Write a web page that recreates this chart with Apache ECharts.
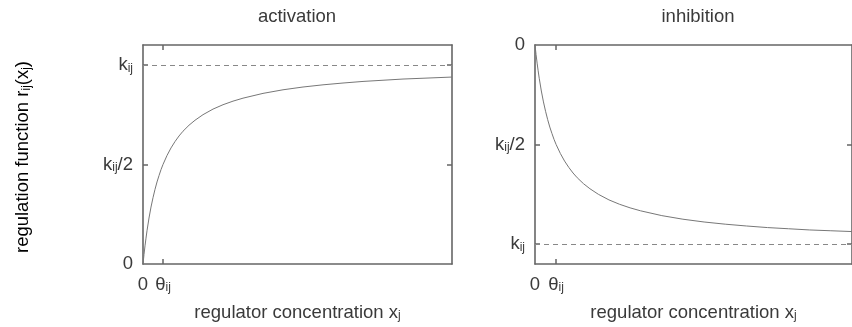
<!DOCTYPE html>
<html>
<head>
<meta charset="utf-8">
<script src="https://cdn.jsdelivr.net/npm/echarts@6/dist/echarts.min.js"></script>
<style>
  html, body { margin: 0; padding: 0; background: #fff; }
  #chart { width: 852px; height: 327px; }
</style>
</head>
<body>
<div id="chart"></div>
<script>
// x in units of theta_ij, y in units of k_ij
const actX = [0, 0.05, 0.1, 0.15, 0.2, 0.3, 0.4, 0.5, 0.6, 0.7, 0.8, 0.9, 1, 1.2, 1.4, 1.6, 1.8, 2, 2.3, 2.6, 3, 3.5, 4, 4.5, 5, 6, 7, 8, 9, 10, 11, 12, 13, 14, 15.45]
const actY = [0, 0.048, 0.091, 0.13, 0.167, 0.231, 0.286, 0.333, 0.375, 0.412, 0.444, 0.474, 0.5, 0.545, 0.583, 0.615, 0.643, 0.667, 0.697, 0.722, 0.75, 0.778, 0.8, 0.818, 0.833, 0.857, 0.875, 0.889, 0.9, 0.909, 0.917, 0.923, 0.929, 0.933, 0.939]
const inhX = [0, 0.05, 0.1, 0.15, 0.2, 0.3, 0.4, 0.5, 0.6, 0.7, 0.8, 0.9, 1, 1.2, 1.4, 1.6, 1.8, 2, 2.3, 2.6, 3, 3.5, 4, 4.5, 5, 6, 7, 8, 9, 10, 11, 12, 13, 14, 15]
const inhY = [0, 0.048, 0.091, 0.13, 0.167, 0.231, 0.286, 0.333, 0.375, 0.412, 0.444, 0.474, 0.5, 0.545, 0.583, 0.615, 0.643, 0.667, 0.697, 0.722, 0.75, 0.778, 0.8, 0.818, 0.833, 0.857, 0.875, 0.889, 0.9, 0.909, 0.917, 0.923, 0.929, 0.933, 0.937]
const xTicks = [0, 1]
const yTicks = [0, 0.5, 1]
const panelTitles = ['activation', 'inhibition']
const xTitle = '{m|regulator concentration x}{s|j}'
const yTitle = '{m|regulation function r}{s|ij}{m|(x}{s|j}{m|)}'

const FONT = 'Liberation Sans'
const TXT = '#3a3a3a'
const AX = '#666'
const rich = {
  m: { fontFamily: FONT, fontSize: 18.5, color: TXT, lineHeight: 19, verticalAlign: 'bottom' },
  s: { fontFamily: FONT, fontSize: 12, color: TXT, lineHeight: 4, verticalAlign: 'bottom' }
}

function xLabel(v) {
  return v === 0 ? '{m|0}' : '{m|θ}{s|ij}'
}
function yLabel(v) {
  if (v === 0) return '{m|0}'
  if (v === 0.5) return '{m|k}{s|ij}{m|/2}'
  return '{m|k}{s|ij}'
}

const chart = echarts.init(document.getElementById('chart'), null, { renderer: 'canvas' })

const grids = [
  { left: 143, top: 45, width: 309, height: 224, xmax: 15.45 },
  { left: 535, top: 45, width: 330, height: 224, xmax: 15 }
]

const xAxes = [], yAxes = [], series = []
grids.forEach((g, i) => {
  const line = { show: true, onZero: false, lineStyle: { color: AX, width: 1.6 } }
  const tick = vals => ({ inside: true, length: 5, customValues: vals, lineStyle: { color: AX, width: 1.5 } })
  xAxes.push({
    type: 'value', gridIndex: i, position: 'bottom', min: 0, max: g.xmax,
    axisLine: line, splitLine: { show: false }, axisTick: tick([1]),
    axisLabel: { customValues: xTicks, formatter: xLabel, rich: rich, margin: 11 },
    name: xTitle, nameLocation: 'middle', nameGap: 39, nameTextStyle: { rich: rich }
  })
  xAxes.push({
    type: 'value', gridIndex: i, position: 'top', min: 0, max: g.xmax,
    axisLine: line, splitLine: { show: false }, axisTick: tick([1]),
    axisLabel: { show: false }
  })
  yAxes.push({
    type: 'value', gridIndex: i, position: 'left', min: 0, max: 1.1, inverse: i === 1,
    axisLine: line, splitLine: { show: false }, axisTick: tick([0.5, 1]),
    axisLabel: { customValues: yTicks, formatter: yLabel, rich: rich, margin: 10 }
  })
  yAxes.push({
    type: 'value', gridIndex: i, position: 'right', min: 0, max: 1.1, inverse: i === 1,
    axisLine: line, splitLine: { show: false }, axisTick: tick([0.5, 1]),
    axisLabel: { show: false }
  })
  const xs = i === 0 ? actX : inhX
  const ys = i === 0 ? actY : inhY
  series.push({
    type: 'line', xAxisIndex: i * 2, yAxisIndex: i * 2,
    data: xs.map((x, j) => [x, ys[j]]),
    smooth: false, showSymbol: false, symbol: 'none', silent: true,
    lineStyle: { color: '#777', width: 1 },
    markLine: {
      silent: true, symbol: 'none', label: { show: false },
      lineStyle: { color: '#888', width: 1, type: [5, 4] },
      data: [{ yAxis: 1 }]
    }
  })
})

chart.setOption({
  animation: false,
  grid: grids.map(g => ({ left: g.left, top: g.top, width: g.width, height: g.height })),
  xAxis: xAxes,
  yAxis: yAxes,
  series: series,
  graphic: [
    { type: 'text', x: 297, y: 17, style: { text: panelTitles[0], font: '18.5px ' + FONT, fill: TXT, textAlign: 'center', textVerticalAlign: 'middle' } },
    { type: 'text', x: 698, y: 17, style: { text: panelTitles[1], font: '18.5px ' + FONT, fill: TXT, textAlign: 'center', textVerticalAlign: 'middle' } },
    { type: 'text', x: 23, y: 157, rotation: Math.PI / 2,
      style: { text: yTitle, rich: rich, textAlign: 'center', textVerticalAlign: 'middle' } }
  ]
})
</script>
</body>
</html>
